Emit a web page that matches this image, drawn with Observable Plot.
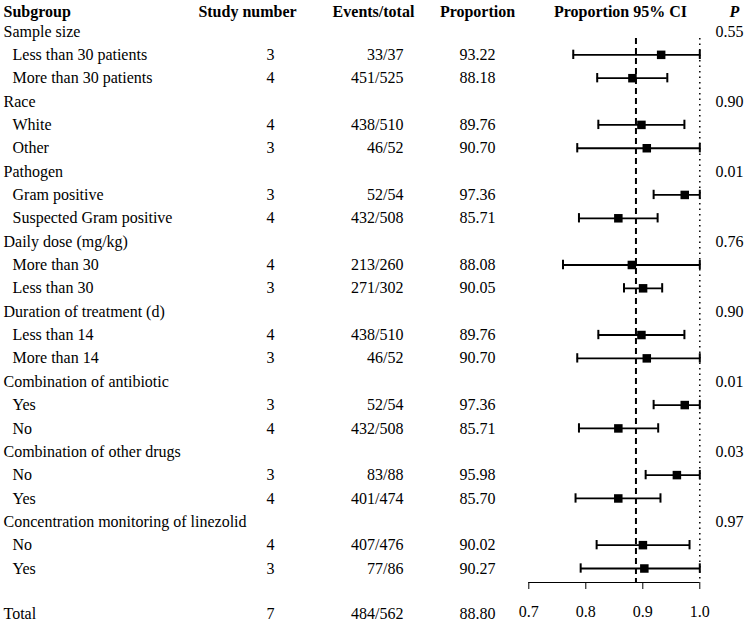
<!DOCTYPE html>
<html>
<head>
<meta charset="utf-8">
<script src="https://cdn.jsdelivr.net/npm/d3@7"></script>
<script src="https://cdn.jsdelivr.net/npm/@observablehq/plot@0.6"></script>
<style>
  html, body { margin: 0; padding: 0; background: #fff; }
  svg, svg text { font-family: "Liberation Serif", "Tinos", "Times New Roman", Times, "DejaVu Serif", serif !important; }
</style>
</head>
<body>
<div id="chart"></div>
<script>
// ---- data ----
const headers = ["Subgroup", "Study number", "Events/total", "Proportion", "Proportion 95% CI", "P"];

const groupLabels = [
  "Sample size", "Race", "Pathogen", "Daily dose (mg/kg)",
  "Duration of treatment (d)", "Combination of antibiotic",
  "Combination of other drugs", "Concentration monitoring of linezolid"
];
const groupP = ["0.55", "0.90", "0.01", "0.76", "0.90", "0.01", "0.03", "0.97"];

const subLabels = [
  "Less than 30 patients", "More than 30 patients",
  "White", "Other",
  "Gram positive", "Suspected Gram positive",
  "More than 30", "Less than 30",
  "Less than 14", "More than 14",
  "Yes", "No",
  "No", "Yes",
  "No", "Yes"
];
const studyNumbers = [3, 4, 4, 3, 3, 4, 4, 3, 4, 3, 3, 4, 3, 4, 4, 3];
const eventsTotal = [
  "33/37", "451/525", "438/510", "46/52", "52/54", "432/508", "213/260", "271/302",
  "438/510", "46/52", "52/54", "432/508", "83/88", "401/474", "407/476", "77/86"
];
const proportions = [93.22, 88.18, 89.76, 90.70, 97.36, 85.71, 88.08, 90.05,
                     89.76, 90.70, 97.36, 85.71, 95.98, 85.70, 90.02, 90.27];
const ciLower = [0.778, 0.820, 0.822, 0.785, 0.919, 0.788, 0.760, 0.867,
                 0.822, 0.785, 0.919, 0.788, 0.905, 0.782, 0.819, 0.791];
const ciUpper = [1.000, 0.943, 0.973, 1.000, 1.000, 0.926, 1.000, 0.934,
                 0.973, 1.000, 1.000, 0.927, 1.000, 0.931, 0.982, 1.000];

const totalLabel = "Total";
const totalStudies = 7;
const totalEvents = "484/562";
const totalProportion = 88.80;
const pooled = 0.888;
const nullValue = 1.0;
const xTicks = [0.7, 0.8, 0.9, 1.0];

// ---- table built from arrays ----
const groupRows = groupLabels.map((label, g) => ({row: 1 + 3 * g, label, p: groupP[g]}));
const subRows = subLabels.map((label, i) => {
  const g = Math.floor(i / 2);
  return {
    row: 2 + 3 * g + (i % 2),
    label,
    n: studyNumbers[i],
    events: eventsTotal[i],
    prop: proportions[i].toFixed(2),
    est: proportions[i] / 100,
    lo: ciLower[i],
    hi: ciUpper[i]
  };
});

const FS = 16;
const font = "Liberation Serif";
const lastRow = 24;
const axisRow = 24.6;
const capHalf = 0.2;

const T = (extra) => Object.assign({fontSize: FS, fontFamily: font, lineAnchor: "middle", fill: "#000"}, extra);

const chart = Plot.plot({
  width: 749,
  height: 621,
  marginLeft: 0,
  marginRight: 0,
  marginTop: 0,
  marginBottom: 39,
  style: {fontFamily: font, fontSize: FS + "px", background: "#fff", color: "#000"},
  x: {domain: [0.7, 1.0], range: [528.3, 699.3]},
  y: {type: "linear", domain: [1, lastRow], range: [31, 568], axis: null},
  marks: [
    // header
    Plot.text([headers[0]], T({frameAnchor: "top-left", dx: 3, dy: 11, text: d => d, textAnchor: "start", fontWeight: "bold"})),
    Plot.text([headers[1]], T({frameAnchor: "top-left", dx: 247, dy: 11, text: d => d, textAnchor: "middle", fontWeight: "bold"})),
    Plot.text([headers[2]], T({frameAnchor: "top-left", dx: 373, dy: 11, text: d => d, textAnchor: "middle", fontWeight: "bold"})),
    Plot.text([headers[3]], T({frameAnchor: "top-left", dx: 477, dy: 11, text: d => d, textAnchor: "middle", fontWeight: "bold"})),
    Plot.text([headers[4]], T({frameAnchor: "top-left", dx: 620, dy: 11, text: d => d, textAnchor: "middle", fontWeight: "bold"})),
    Plot.text([headers[5]], T({frameAnchor: "top-left", dx: 734, dy: 11, text: d => d, textAnchor: "middle", fontWeight: "bold", fontStyle: "italic"})),

    // group rows
    Plot.text(groupRows, T({y: "row", frameAnchor: "left", dx: 3, text: "label", textAnchor: "start"})),
    Plot.text(groupRows, T({y: "row", frameAnchor: "left", dx: 715, text: "p", textAnchor: "start"})),

    // subgroup rows
    Plot.text(subRows, T({y: "row", frameAnchor: "left", dx: 12, text: "label", textAnchor: "start"})),
    Plot.text(subRows, T({y: "row", frameAnchor: "left", dx: 270, text: "n", textAnchor: "middle"})),
    Plot.text(subRows, T({y: "row", frameAnchor: "left", dx: 403, text: "events", textAnchor: "end"})),
    Plot.text(subRows, T({y: "row", frameAnchor: "left", dx: 477, text: "prop", textAnchor: "middle"})),

    // reference lines
    Plot.ruleX([pooled], {y1: 1.3, y2: axisRow, stroke: "#000", strokeWidth: 2, strokeDasharray: "6,4"}),
    Plot.ruleX([nullValue], {y1: 1.3, y2: axisRow, stroke: "#000", strokeWidth: 1.5, strokeDasharray: "1.5,4"}),

    // CI lines and caps
    Plot.ruleY(subRows, {y: "row", x1: "lo", x2: "hi", stroke: "#000", strokeWidth: 1.8}),
    Plot.ruleX(subRows, {x: "lo", y1: d => d.row - capHalf, y2: d => d.row + capHalf, stroke: "#000", strokeWidth: 2}),
    Plot.ruleX(subRows, {x: "hi", y1: d => d.row - capHalf, y2: d => d.row + capHalf, stroke: "#000", strokeWidth: 2}),
    Plot.dot(subRows, {x: "est", y: "row", symbol: "square", r: 4.8, fill: "#000", stroke: null}),

    // axis
    Plot.ruleY([axisRow], {x1: 0.7, x2: 1.0, stroke: "#000", strokeWidth: 1}),
    Plot.axisX({ticks: xTicks, tickFormat: d3.format(".1f"), tickSize: 7, tickPadding: 16, fontSize: FS, fontFamily: font, anchor: "bottom", label: null, stroke: "#000", fill: "#000"}),

    // total row
    Plot.text([totalLabel], T({frameAnchor: "bottom-left", dx: 3, dy: 31, text: d => d, textAnchor: "start"})),
    Plot.text([totalStudies], T({frameAnchor: "bottom-left", dx: 270, dy: 31, text: d => String(d), textAnchor: "middle"})),
    Plot.text([totalEvents], T({frameAnchor: "bottom-left", dx: 403, dy: 31, text: d => d, textAnchor: "end"})),
    Plot.text([totalProportion], T({frameAnchor: "bottom-left", dx: 477, dy: 31, text: d => d.toFixed(2), textAnchor: "middle"}))
  ]
});

document.getElementById("chart").appendChild(chart);
</script>
</body>
</html>
